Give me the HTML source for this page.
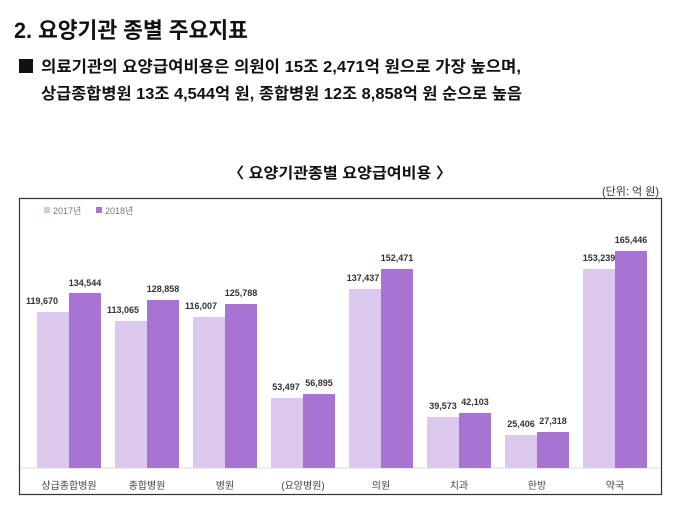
<!DOCTYPE html>
<html><head><meta charset="utf-8"><style>
body{margin:0;background:#fff;}
</style></head><body>
<svg width="680" height="512" xmlns="http://www.w3.org/2000/svg" font-family="'Liberation Sans','Noto Sans CJK KR',sans-serif">
<rect width="680" height="512" fill="#fff"/>
<text x="14" y="38" font-size="22" font-weight="bold" fill="#111" textLength="234" lengthAdjust="spacingAndGlyphs">2. 요양기관 종별 주요지표</text>
<rect x="19" y="59" width="14" height="14" fill="#111"/>
<text x="41" y="72" font-size="16" font-weight="bold" fill="#111" textLength="480" lengthAdjust="spacingAndGlyphs">의료기관의 요양급여비용은 의원이 15조 2,471억 원으로 가장 높으며,</text>
<text x="41" y="99" font-size="16" font-weight="bold" fill="#111" textLength="481" lengthAdjust="spacingAndGlyphs">상급종합병원 13조 4,544억 원, 종합병원 12조 8,858억 원 순으로 높음</text>
<text x="228" y="178" font-size="15" font-weight="bold" fill="#111" textLength="224" lengthAdjust="spacingAndGlyphs">〈 요양기관종별 요양급여비용 〉</text>
<text x="659" y="195" font-size="11" fill="#333" text-anchor="end">(단위: 억 원)</text>
<rect x="19.5" y="198.5" width="642" height="296" fill="#fff" stroke="#333" stroke-width="1.2"/>
<rect x="44" y="207" width="6" height="6" fill="#dcc8ec"/>
<text x="53" y="214" font-size="9" fill="#777">2017년</text>
<rect x="96" y="207" width="6" height="6" fill="#a874d4"/>
<text x="105" y="214" font-size="9" fill="#777">2018년</text>
<line x1="20" y1="468" x2="660" y2="468" stroke="#ddd"/>
<g font-size="9" font-weight="bold" fill="#333" text-anchor="middle">
<rect x="37" y="312" width="32" height="156" fill="#dcc8ec"/><rect x="69" y="293" width="32" height="175" fill="#a874d4"/>
<text x="42" y="304">119,670</text><text x="85" y="286">134,544</text>
<rect x="115" y="321" width="32" height="147" fill="#dcc8ec"/><rect x="147" y="300" width="32" height="168" fill="#a874d4"/>
<text x="123" y="313">113,065</text><text x="163" y="292">128,858</text>
<rect x="193" y="317" width="32" height="151" fill="#dcc8ec"/><rect x="225" y="304" width="32" height="164" fill="#a874d4"/>
<text x="201" y="309">116,007</text><text x="241" y="296">125,788</text>
<rect x="271" y="398" width="32" height="70" fill="#dcc8ec"/><rect x="303" y="394" width="32" height="74" fill="#a874d4"/>
<text x="286" y="390">53,497</text><text x="319" y="386">56,895</text>
<rect x="349" y="289" width="32" height="179" fill="#dcc8ec"/><rect x="381" y="269" width="32" height="199" fill="#a874d4"/>
<text x="363" y="281">137,437</text><text x="397" y="261">152,471</text>
<rect x="427" y="417" width="32" height="51" fill="#dcc8ec"/><rect x="459" y="413" width="32" height="55" fill="#a874d4"/>
<text x="443" y="409">39,573</text><text x="475" y="405">42,103</text>
<rect x="505" y="435" width="32" height="33" fill="#dcc8ec"/><rect x="537" y="432" width="32" height="36" fill="#a874d4"/>
<text x="521" y="427">25,406</text><text x="553" y="424">27,318</text>
<rect x="583" y="269" width="32" height="199" fill="#dcc8ec"/><rect x="615" y="251" width="32" height="217" fill="#a874d4"/>
<text x="599" y="261">153,239</text><text x="631" y="243">165,446</text>
</g>
<g font-size="10" fill="#444" text-anchor="middle">
<text x="69" y="489">상급종합병원</text><text x="147" y="489">종합병원</text><text x="225" y="489">병원</text><text x="303" y="489">(요양병원)</text>
<text x="381" y="489">의원</text><text x="459" y="489">치과</text><text x="537" y="489">한방</text><text x="615" y="489">약국</text>
</g>
</svg>
</body></html>
